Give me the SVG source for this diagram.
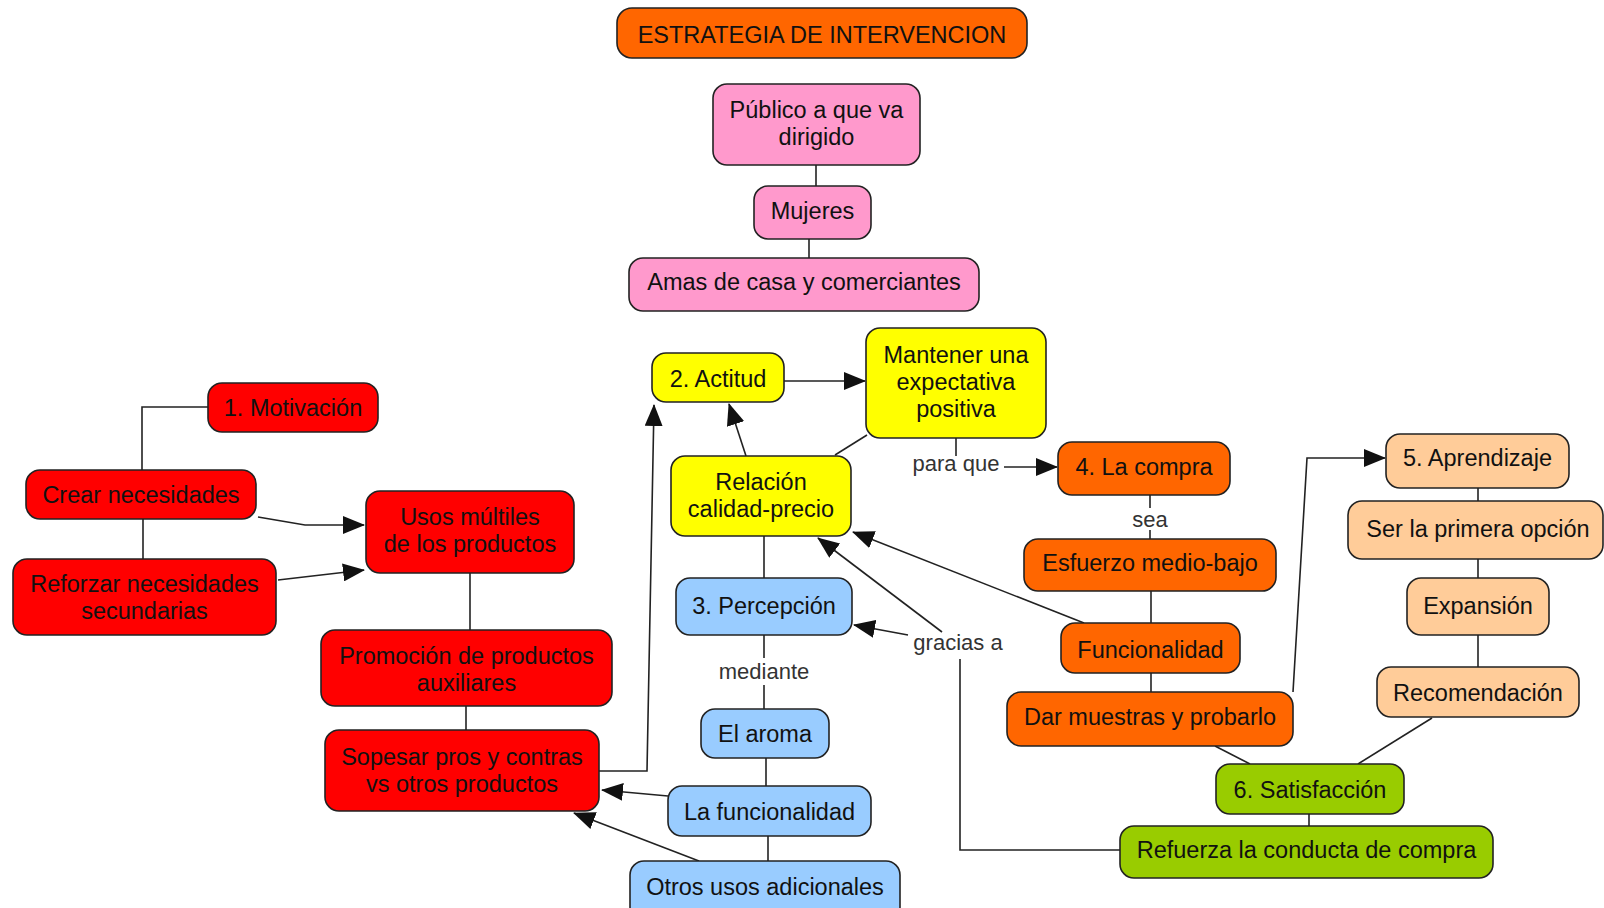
<svg xmlns="http://www.w3.org/2000/svg" width="1604" height="908" viewBox="0 0 1604 908">
<style>
.node rect{stroke:#222;stroke-width:1.6}
.node text{font-family:"Liberation Sans",Arial,sans-serif;font-size:23.5px;text-anchor:middle;fill:#111}
.orange rect{fill:#FF6600}
.pink rect{fill:#FF99CC}
.yellow rect{fill:#FFFF00}
.red rect{fill:#FF0000}
.blue rect{fill:#99CCFF}
.peach rect{fill:#FFCC99}
.green rect{fill:#99CC00}
.conn path{stroke:#222;stroke-width:1.6;fill:none}
.conn .arr{marker-end:url(#ah)}
.lbl{font-family:"Liberation Sans",Arial,sans-serif;font-size:22px;text-anchor:middle;fill:#333}
</style>
<defs>
<marker id="ah" markerUnits="userSpaceOnUse" markerWidth="22" markerHeight="18" refX="21" refY="9" orient="auto">
<path d="M0,0 L22,9 L0,18 z" fill="#111"/>
</marker>
</defs>
<rect width="1604" height="908" fill="#fff"/>
<g id="connectors" class="conn">
<path d="M816,165 V186"/>
<path d="M809,239 V258"/>
<path d="M208,407 H142 V470"/>
<path d="M143,519 V559"/>
<path class="arr" d="M258,517 L305,525 H364"/>
<path class="arr" d="M278,580 L364,570"/>
<path d="M470,573 V630"/>
<path d="M466,706 V730"/>
<path class="arr" d="M599,771 H647 L654,405"/>
<path class="arr" d="M784,381 H865"/>
<path class="arr" d="M746,456 L729,404"/>
<path d="M835,455 L867,435"/>
<path d="M956,438 V456"/>
<path class="arr" d="M1004,467 H1057"/>
<path d="M1150,495 V508"/>
<path d="M1150,530 V539"/>
<path d="M1151,591 V623"/>
<path d="M1151,673 V692"/>
<path class="arr" d="M1084,623 L853,532"/>
<path class="arr" d="M942,632 L818,538"/>
<path class="arr" d="M908,635 L854,625"/>
<path d="M960,659 V850 H1120"/>
<path d="M764,536 V578"/>
<path d="M764,635 V658"/>
<path d="M764,685 V709"/>
<path d="M766,758 V786"/>
<path d="M768,836 V861"/>
<path class="arr" d="M668,796 L602,790"/>
<path class="arr" d="M699,861 L574,813"/>
<path class="arr" d="M1293,692 L1307,458 H1385"/>
<path d="M1478,488 V501"/>
<path d="M1478,559 V578"/>
<path d="M1478,635 V667"/>
<path d="M1432,718 L1358,764"/>
<path d="M1215,746 L1250,764"/>
<path d="M1309,814 V826"/>
<text class="lbl" x="956" y="471">para que</text>
<text class="lbl" x="1150" y="527">sea</text>
<text class="lbl" x="764" y="679">mediante</text>
<text class="lbl" x="958" y="650">gracias a</text>
</g>
<g id="n-estrategia" class="node orange"><rect x="617" y="8" width="410" height="50" rx="15"/><text x="822" y="43">ESTRATEGIA DE INTERVENCION</text></g>
<g id="n-publico" class="node pink"><rect x="713" y="84" width="207" height="81" rx="14"/><text x="816.5" y="118">Público a que va</text><text x="816.5" y="145">dirigido</text></g>
<g id="n-mujeres" class="node pink"><rect x="754" y="186" width="117" height="53" rx="14"/><text x="812.5" y="219">Mujeres</text></g>
<g id="n-amas" class="node pink"><rect x="629" y="258" width="350" height="53" rx="14"/><text x="804" y="290">Amas de casa y comerciantes</text></g>
<g id="n-actitud" class="node yellow"><rect x="652" y="353" width="132" height="49" rx="14"/><text x="718" y="387">2. Actitud</text></g>
<g id="n-mantener" class="node yellow"><rect x="866" y="328" width="180" height="110" rx="14"/><text x="956" y="363">Mantener una</text><text x="956" y="390">expectativa</text><text x="956" y="417">positiva</text></g>
<g id="n-relacion" class="node yellow"><rect x="671" y="456" width="180" height="80" rx="14"/><text x="761" y="490">Relación</text><text x="761" y="517">calidad-precio</text></g>
<g id="n-percepcion" class="node blue"><rect x="676" y="578" width="176" height="57" rx="14"/><text x="764" y="614">3. Percepción</text></g>
<g id="n-aroma" class="node blue"><rect x="701" y="709" width="128" height="49" rx="14"/><text x="765" y="742">El aroma</text></g>
<g id="n-lafuncionalidad" class="node blue"><rect x="668" y="786" width="203" height="50" rx="14"/><text x="769.5" y="820">La funcionalidad</text></g>
<g id="n-otros" class="node blue"><rect x="630" y="861" width="270" height="60" rx="14"/><text x="765" y="895">Otros usos adicionales</text></g>
<g id="n-motivacion" class="node red"><rect x="208" y="383" width="170" height="49" rx="14"/><text x="293" y="416">1. Motivación</text></g>
<g id="n-crear" class="node red"><rect x="26" y="470" width="230" height="49" rx="14"/><text x="141" y="503">Crear necesidades</text></g>
<g id="n-reforzar" class="node red"><rect x="13" y="559" width="263" height="76" rx="14"/><text x="144.5" y="592">Reforzar necesidades</text><text x="144.5" y="619">secundarias</text></g>
<g id="n-usos" class="node red"><rect x="366" y="491" width="208" height="82" rx="14"/><text x="470" y="525">Usos múltiles</text><text x="470" y="552">de los productos</text></g>
<g id="n-promocion" class="node red"><rect x="321" y="630" width="291" height="76" rx="14"/><text x="466.5" y="664">Promoción de productos</text><text x="466.5" y="691">auxiliares</text></g>
<g id="n-sopesar" class="node red"><rect x="325" y="730" width="274" height="81" rx="14"/><text x="462" y="765">Sopesar pros y contras</text><text x="462" y="792">vs otros productos</text></g>
<g id="n-compra" class="node orange"><rect x="1058" y="442" width="172" height="53" rx="14"/><text x="1144" y="475">4. La compra</text></g>
<g id="n-esfuerzo" class="node orange"><rect x="1024" y="539" width="252" height="52" rx="14"/><text x="1150" y="571">Esfuerzo medio-bajo</text></g>
<g id="n-funcionalidad" class="node orange"><rect x="1061" y="623" width="179" height="50" rx="14"/><text x="1150.5" y="658">Funcionalidad</text></g>
<g id="n-dar" class="node orange"><rect x="1007" y="692" width="286" height="54" rx="14"/><text x="1150" y="725">Dar muestras y probarlo</text></g>
<g id="n-aprendizaje" class="node peach"><rect x="1386" y="434" width="183" height="54" rx="14"/><text x="1477.5" y="466">5. Aprendizaje</text></g>
<g id="n-ser" class="node peach"><rect x="1348" y="501" width="255" height="58" rx="14"/><text x="1478" y="537">Ser la primera opción</text></g>
<g id="n-expansion" class="node peach"><rect x="1407" y="578" width="142" height="57" rx="14"/><text x="1478" y="614">Expansión</text></g>
<g id="n-recomendacion" class="node peach"><rect x="1377" y="667" width="202" height="50" rx="14"/><text x="1478" y="701">Recomendación</text></g>
<g id="n-satisfaccion" class="node green"><rect x="1216" y="764" width="188" height="50" rx="14"/><text x="1310" y="798">6. Satisfacción</text></g>
<g id="n-refuerza" class="node green"><rect x="1120" y="826" width="373" height="52" rx="14"/><text x="1306.5" y="858">Refuerza la conducta de compra</text></g>
</svg>
